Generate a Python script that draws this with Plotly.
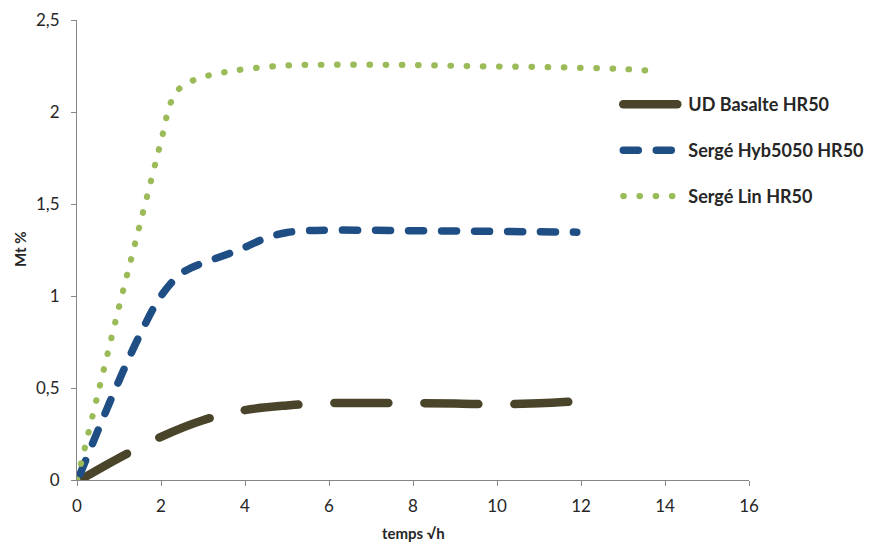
import plotly.graph_objects as go

# ---- data ----
basalte_x = [0.07, 1.0, 2.0, 3.0, 4.0, 5.0, 6.0, 7.0, 8.0, 9.0, 10.0, 11.0, 11.7]
basalte_y = [0.0, 0.12, 0.235, 0.325, 0.38, 0.405, 0.418, 0.418, 0.418, 0.416, 0.411, 0.417, 0.425]

hyb_x = [0.07, 0.5, 1.0, 1.5, 2.0, 2.5, 3.0, 3.5, 4.0, 4.5, 5.0, 5.5, 6.0, 7.0, 8.0, 9.0, 10.0, 11.0, 11.9]
hyb_y = [0.03, 0.27, 0.54, 0.79, 1.0, 1.125, 1.18, 1.22, 1.265, 1.315, 1.345, 1.355, 1.358, 1.357, 1.355, 1.353, 1.351, 1.349, 1.347]

lin_x = [0.0, 0.5, 1.0, 1.5, 2.0, 2.25, 2.5, 3.0, 3.5, 4.0, 5.0, 6.0, 7.0, 8.0, 9.0, 10.0, 11.0, 12.0, 13.0, 13.9]
lin_y = [0.0, 0.47, 0.94, 1.39, 1.84, 2.06, 2.14, 2.19, 2.216, 2.233, 2.253, 2.257, 2.257, 2.255, 2.251, 2.247, 2.245, 2.24, 2.234, 2.22]

series_names = ["UD Basalte HR50", "Sergé Hyb5050 HR50", "Sergé Lin HR50"]

x_ticks = [0, 2, 4, 6, 8, 10, 12, 14, 16]
x_ticktext = ["0", "2", "4", "6", "8", "10", "12", "14", "16"]
y_ticks = [0, 0.5, 1, 1.5, 2, 2.5]
y_ticktext = ["0", "0,5", "1", "1,5", "2", "2,5"]

x_title = "temps √h"
y_title = "Mt %"

# ---- figure ----
FONT = "Lato, 'Open Sans', sans-serif"
AXIS_COL = "#868686"

fig = go.Figure()
fig.add_trace(go.Scatter(
    x=basalte_x, y=basalte_y, mode="lines", name=series_names[0],
    line=dict(color="#4a452a", width=8.5, dash="54px,36px", shape="spline", smoothing=1),
    legend="legend"))
fig.add_trace(go.Scatter(
    x=hyb_x, y=hyb_y, mode="lines", name=series_names[1],
    line=dict(color="#1f4e84", width=7.5, dash="15px,18px", shape="spline", smoothing=1),
    legend="legend2"))
fig.add_trace(go.Scatter(
    x=lin_x, y=lin_y, mode="lines", name=series_names[2],
    line=dict(color="#9bbb59", width=6.2, dash="0.5px,15.7px", shape="spline", smoothing=1),
    legend="legend3"))

legend_common = dict(
    xref="container", yref="container", xanchor="left", yanchor="middle",
    font=dict(family=FONT, size=18, color="#262626", weight="bold"),
    bgcolor="rgba(0,0,0,0)", itemwidth=60, borderwidth=0,
)
LX = 0.701
fig.update_layout(
    width=882, height=544,
    margin=dict(l=77, r=133, t=20, b=64, autoexpand=False),
    paper_bgcolor="white", plot_bgcolor="white",
    font=dict(family=FONT, size=17, color="#262626"),
    showlegend=True,
    legend=dict(x=LX, y=1 - 104.6 / 544, **legend_common),
    legend2=dict(x=LX, y=1 - 150.5 / 544, **legend_common),
    legend3=dict(x=LX, y=1 - 196.4 / 544, **legend_common),
    xaxis=dict(range=[0, 16], tickvals=x_ticks, ticktext=x_ticktext,
               showline=True, linecolor=AXIS_COL, linewidth=1,
               ticks="outside", ticklen=5, tickcolor=AXIS_COL, tickwidth=1,
               showgrid=False, zeroline=False, ticklabelstandoff=6, automargin=False),
    yaxis=dict(range=[0, 2.5], tickvals=y_ticks, ticktext=y_ticktext,
               showline=True, linecolor=AXIS_COL, linewidth=1,
               ticks="outside", ticklen=5, tickcolor=AXIS_COL, tickwidth=1,
               showgrid=False, zeroline=False, ticklabelstandoff=8, automargin=False),
    annotations=[
        dict(text=x_title, xref="paper", yref="paper", x=0.5, y=0, yshift=-53,
             xanchor="center", yanchor="middle", showarrow=False,
             font=dict(family=FONT, size=15, color="#262626", weight="bold")),
        dict(text=y_title, xref="paper", yref="paper", x=0, y=0.5, xshift=-57,
             xanchor="center", yanchor="middle", showarrow=False, textangle=-90,
             font=dict(family=FONT, size=15, color="#262626", weight="bold")),
    ],
)

post = ("var s=document.createElement('style');"
        "s.innerHTML='body{margin:0 !important;overflow:hidden;} .js-line{stroke-linecap:round !important;}';"
        "document.head.appendChild(s);")
fig.write_html("out.html", post_script=post, config={"displayModeBar": False})
